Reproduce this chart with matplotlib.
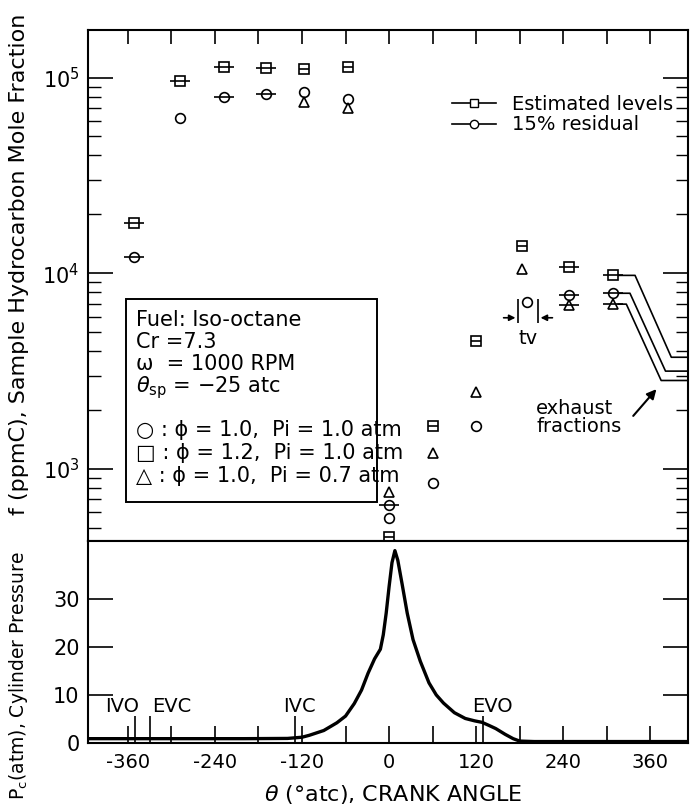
import numpy as np
import matplotlib
matplotlib.use("Agg")
import matplotlib.pyplot as plt
from matplotlib.lines import Line2D
from matplotlib.patches import Rectangle
from matplotlib.ticker import LogLocator, NullFormatter, FixedLocator

plt.rcParams['font.family'] = 'DejaVu Sans'
plt.rcParams['axes.unicode_minus'] = False
plt.rcParams['mathtext.fontset'] = 'dejavusans'

# ---- data ----
# phi=1.0, Pi=1.0 atm (circles)
circ_theta = [-288, -117, -57, 0, 60, 120, 190]
circ_f = [6.2e4, 8.4e4, 7.8e4, 560, 850, 1650, 7100]
circ_est_theta = [-352, -228, -170, 0, 248, 309]
circ_est_f = [1.21e4, 8.0e4, 8.2e4, 650, 7700, 7900]

# phi=1.2, Pi=1.0 atm (squares)
sq_theta = [-117, -57, 0, 60, 120, 183]
sq_f = [1.10e5, 1.13e5, 450, 1650, 4490, 1.38e4]
sq_est_theta = [-352, -288, -228, -170, 248, 309]
sq_est_f = [1.8e4, 9.6e4, 1.13e5, 1.12e5, 1.07e4, 9750]

# phi=1.0, Pi=0.7 atm (triangles)
tri_theta = [-117, -57, 0, 60, 120, 183]
tri_f = [7.5e4, 7.0e4, 760, 1200, 2460, 1.05e4]
tri_est_theta = [248, 309]
tri_est_f = [6900, 6950]

# exhaust fraction leader lines
exh_theta = [[316, 339, 389, 415], [316, 332, 381, 415], [316, 327, 375, 415]]
exh_f = [[9750, 9750, 3720, 3720], [7900, 7900, 3160, 3160], [6950, 6950, 2830, 2830]]

# cylinder pressure trace
p_theta = [-415, -300, -200, -140, -120, -110, -90, -72, -60, -48, -38, -29, -20,
           -12, -8, -4, 0, 4, 8, 12, 18, 25, 33, 43, 55, 65, 75, 90, 105, 118,
           128, 137, 147, 160, 171, 180, 200, 300, 412]
p_atm = [0.9, 0.9, 0.9, 0.95, 1.2, 1.6, 2.6, 4.2, 5.6, 8.2, 11, 14.5, 17.5,
         19.5, 22.5, 27, 32.5, 37.5, 40, 38, 33, 27, 21.5, 17, 12.5, 10, 8.3, 6.3, 5.1, 4.6,
         4.3, 3.7, 3.0, 1.8, 0.9, 0.4, 0.3, 0.3, 0.3]

# valve events
valve_theta = [-350, -330, -130, 130]
valve_text = ['IVO', 'EVC', 'IVC', 'EVO']
valve_text_x = [-368, -299, -124, 142]

box_lines = ['Fuel: Iso-octane', 'Cr =7.3', 'ω  = 1000 RPM',
             r'$\theta_{\rm sp}$ = $-$25 atc',
             '○ : ϕ = 1.0,  Pi = 1.0 atm',
             '□ : ϕ = 1.2,  Pi = 1.0 atm',
             '△ : ϕ = 1.0,  Pi = 0.7 atm']
box_y = [320, 342, 364, 388, 430, 453, 476]

W, H = 691, 808
fig = plt.figure(figsize=(W / 100, H / 100), dpi=100)


def box(x0, y0, x1, y1):
    return [x0 / W, 1 - y1 / H, (x1 - x0) / W, (y1 - y0) / H]


ax = fig.add_axes(box(88, 30, 688, 541))
ax2 = fig.add_axes(box(88, 541, 688, 743))
xlim = (-415, 412)

mk = dict(ls='none', mfc='white', mec='k', mew=1.2, ms=7, zorder=3)
bar = dict(ls='none', marker='_', color='k', mew=1.2, zorder=4)

ax.plot(circ_theta, circ_f, marker='o', **mk)
ax.plot(circ_est_theta, circ_est_f, marker='o', **mk)
ax.plot(circ_est_theta, circ_est_f, ms=15, **bar)
ax.plot(sq_theta, sq_f, marker='s', **mk)
ax.plot(sq_theta, sq_f, ms=7, **bar)
ax.plot(sq_est_theta, sq_est_f, marker='s', **mk)
ax.plot(sq_est_theta, sq_est_f, ms=15, **bar)
ax.plot(tri_theta, tri_f, marker='^', **mk)
ax.plot(tri_est_theta, tri_est_f, marker='^', **mk)
ax.plot(tri_est_theta, tri_est_f, ms=15, **bar)

for xs, ys in zip(exh_theta, exh_f):
    ax.plot(xs, ys, color='k', lw=1.2, zorder=2)

ax.annotate('', xy=(371, 2620), xytext=(334, 1820),
            arrowprops=dict(arrowstyle='-|>', color='k', lw=1.5, mutation_scale=14))
ax.text(203, 1830, 'exhaust\nfractions', fontsize=14, ha='left', va='center',
        linespacing=0.95)

# tv bracket
ax.vlines([178, 205], 5560, 7400, color='k', lw=1.2)
ax.annotate('', xy=(178, 5920), xytext=(154, 5920),
            arrowprops=dict(arrowstyle='-|>', color='k', lw=1.2, mutation_scale=9))
ax.annotate('', xy=(205, 5920), xytext=(229, 5920),
            arrowprops=dict(arrowstyle='-|>', color='k', lw=1.2, mutation_scale=9))
ax.text(192, 4650, 'tv', fontsize=14, ha='center', va='center')

ax.set_yscale('log')
ax.set_ylim(428, 1.75e5)
ax.set_xlim(*xlim)
ax.yaxis.set_major_locator(FixedLocator([1e3, 1e4, 1e5]))
ax.yaxis.set_minor_locator(LogLocator(base=10, subs=np.arange(2, 10), numticks=20))
ax.yaxis.set_minor_formatter(NullFormatter())
ax.set_yticklabels([r'$10^3$', r'$10^4$', r'$10^5$'])
ax.tick_params(axis='y', which='major', direction='in', length=18, width=1.2,
               left=True, right=True, labelsize=15, pad=6)
ax.tick_params(axis='y', which='minor', direction='in', length=9, width=1.0,
               left=True, right=True)
ax.set_xticks(np.arange(-360, 361, 60))
ax.tick_params(axis='x', which='both', direction='in', top=True, bottom=False,
               labelbottom=False, length=10, width=1.2)

handles = [Line2D([], [], color='k', lw=1.2, marker='s', ms=6, mfc='white', mec='k'),
           Line2D([], [], color='k', lw=1.2, marker='o', ms=6, mfc='white', mec='k')]
ax.legend(handles, ['Estimated levels', '15% residual'], frameon=False, fontsize=14,
          handlelength=2.3, handletextpad=0.8, labelspacing=0.1, borderpad=0.4,
          loc='upper left', bbox_to_anchor=(434 / W, 1 - 77 / H),
          bbox_transform=fig.transFigure)

# pressure panel
ax2.plot(p_theta, p_atm, color='k', lw=2.4, solid_joinstyle='round')
ax2.vlines(valve_theta, 0, 5.6, color='k', lw=1.2)
for x, s in zip(valve_text_x, valve_text):
    ax2.text(x, 6.5, s, fontsize=14, ha='center', va='baseline')
ax2.set_xlim(*xlim)
ax2.set_ylim(0, 42)
ax2.set_xticks(np.arange(-360, 361, 120))
ax2.set_xticks(np.arange(-300, 361, 120), minor=True)
ax2.tick_params(axis='x', which='both', direction='in', length=12, width=1.2,
                labelsize=14, pad=7)
ax2.set_yticks([0, 10, 20, 30])
ax2.tick_params(axis='y', direction='in', length=18, width=1.2, left=True,
                right=True, labelsize=15, pad=6)

for a in (ax, ax2):
    for sp in a.spines.values():
        sp.set_linewidth(1.5)

# parameter box
fig.add_artist(Rectangle((126 / W, 1 - 502 / H), (377 - 126) / W, (502 - 299) / H,
                         transform=fig.transFigure, fill=False, lw=1.4, color='k'))
for s, y in zip(box_lines, box_y):
    fig.text(136 / W, 1 - y / H, s, fontsize=15, ha='left', va='center')

fig.text(19 / W, 1 - 264 / H, 'f (ppmC), Sample Hydrocarbon Mole Fraction',
         rotation=90, ha='center', va='center', fontsize=16)
fig.text(19 / W, 1 - 676 / H, r'P$_{\rm c}$(atm), Cylinder Pressure',
         rotation=90, ha='center', va='center', fontsize=13.5)
fig.text(393 / W, 1 - 795 / H, r'$\theta$ (°atc), CRANK ANGLE',
         ha='center', va='center', fontsize=16)

fig.savefig('out.png', dpi=100)
